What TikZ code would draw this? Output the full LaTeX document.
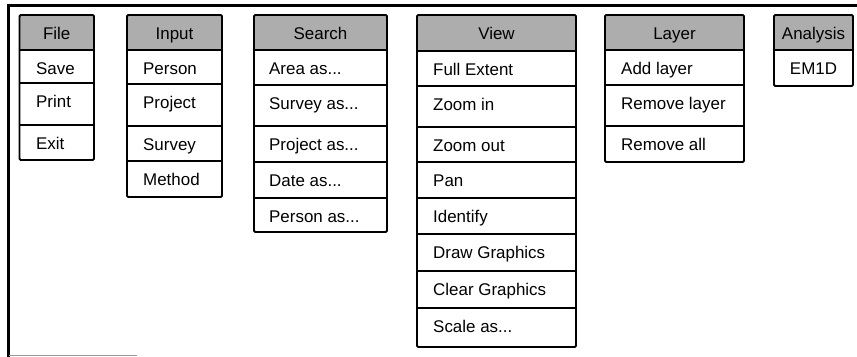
\documentclass[tikz,border=0pt]{standalone}
\usepackage{fontspec}
\setmainfont{Liberation Sans}
\newcommand{\mydots}{...}
\begin{document}
\begin{tikzpicture}[x=1bp,y=-1bp,
  cellline/.style={line width=1.5bp,black},
  boxline/.style={line width=1.9bp,black,rounded corners=1.2bp},
  hdrfill/.style={fill=black!32},
  frameline/.style={line width=2.6bp,black},
  itemtext/.style={anchor=base west,inner sep=0pt,font=\fontsize{17}{20}\selectfont},
  hdrtext/.style={anchor=base,inner sep=0pt,font=\fontsize{17}{20}\selectfont}]
\useasboundingbox (0,0) rectangle (857,356);
% frame
\draw[frameline] (8.5,358) -- (8.5,5.5) -- (858,5.5);
\draw[line width=1bp,black!40] (9,355) -- (137,355);
\newcommand{\mymenu}[7]{%
  \fill[hdrfill] (#2,15) rectangle (#3,#6);
  \node[hdrtext] (#1h) at ({(#2+#3)/2},39) {#5};
  \foreach \tp/\lab [count=\i] in {#7} {
    \draw[cellline] (#2,\tp) -- (#3,\tp);
    \node[itemtext] (#1\i) at (#4,\tp+24) {\lab};
  }
}
% File
\mymenu{file}{19.5}{94}{36}{File}{50}{50/Save,83/Print,125/Exit}
\draw[boxline] (19.5,15) rectangle (94,160);
% Input
\mymenu{input}{127}{222}{143}{Input}{50}{50/Person,84/Project,126/Survey,161/Method}
\draw[boxline] (127,15) rectangle (222,197);
% Search
\mymenu{search}{254}{387}{269}{Search}{50}{50/Area as\mydots,85/Survey as\mydots,126/Project as\mydots,162/Date as\mydots,198/Person as\mydots}
\draw[boxline] (254,15) rectangle (387,232);
% View
\mymenu{view}{417}{576}{433}{View}{51}{51/Full Extent,86/Zoom in,127/Zoom out,162/Pan,198/Identify,234/Draw Graphics,271/Clear Graphics,308/Scale as\mydots}
\draw[boxline] (417,15) rectangle (576,347);
% Layer
\mymenu{layer}{605}{744}{621}{Layer}{50}{50/Add layer,85/Remove layer,126/Remove all}
\draw[boxline] (605,15) rectangle (744,162);
% Analysis
\fill[hdrfill] (774,15) rectangle (853,50);
\node[hdrtext] (anah) at (813.5,39) {Analysis};
\draw[cellline] (774,50) -- (853,50);
\node[hdrtext] (ana1) at (813.5,74) {EM1D};
\draw[boxline] (774,15) rectangle (853,86);
\end{tikzpicture}
\end{document}
